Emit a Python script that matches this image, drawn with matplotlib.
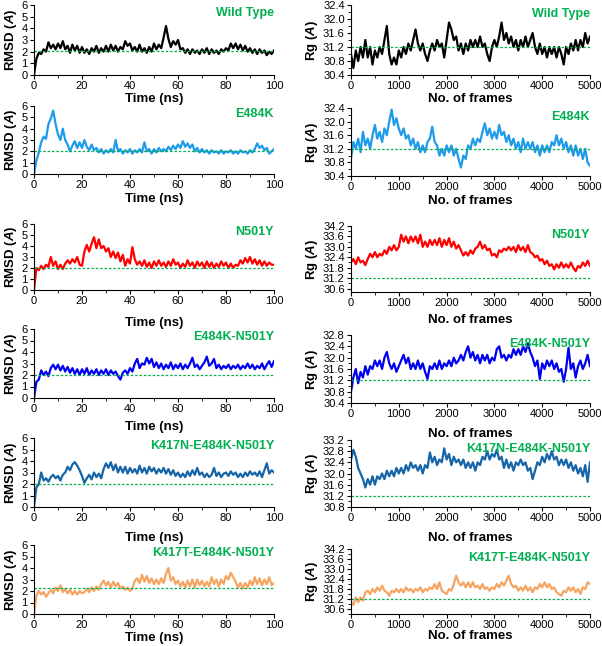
import numpy as np
import matplotlib
matplotlib.use('Agg')
import matplotlib.pyplot as plt
from matplotlib.ticker import MultipleLocator

plt.rcParams['font.family'] = ['Liberation Sans', 'DejaVu Sans']
plt.rcParams['mathtext.fontset'] = 'custom'
plt.rcParams['mathtext.it'] = 'Liberation Sans:italic:bold'
plt.rcParams['mathtext.rm'] = 'Liberation Sans:bold'

# ---------------- datos
names = ['Wild Type', 'E484K', 'N501Y', 'E484K-N501Y',
         'K417N-E484K-N501Y', 'K417T-E484K-N501Y']
colors = ['#000000', '#1E9BEA', '#FF0000', '#0000F0', '#1565A8', '#F5A462']

time_ns = np.arange(0, 101, 1)
frames = np.arange(0, 5001, 50)

rmsd_wt = [0.0, 1.4, 1.9, 1.8, 2.2, 2.0, 2.8, 2.3, 2.6, 2.2,
           2.7, 2.3, 2.9, 2.2, 2.5, 1.9, 2.6, 2.1, 2.5, 1.9,
           2.4, 1.9, 2.2, 1.8, 2.3, 2.0, 2.5, 1.9, 2.3, 2.0,
           2.5, 2.0, 2.6, 2.1, 2.5, 2.0, 2.4, 2.2, 2.9, 2.5,
           2.7, 2.1, 2.4, 2.0, 2.6, 2.0, 2.3, 1.9, 2.4, 2.0,
           2.7, 2.2, 2.6, 2.3, 3.2, 4.2, 3.1, 2.4, 2.9, 2.6,
           3.0, 2.2, 2.3, 1.9, 2.2, 1.8, 2.2, 1.9, 2.1, 1.8,
           2.2, 1.9, 2.3, 1.8, 2.2, 1.9, 2.1, 1.8, 2.2, 2.0,
           2.3, 2.1, 2.7, 2.3, 2.7, 2.2, 2.6, 2.1, 2.5, 2.0,
           2.3, 1.9, 2.2, 1.8, 2.2, 1.9, 2.1, 1.7, 2.0, 1.8, 2.1]
rmsd_e484k = [0.0, 1.2, 1.9, 2.8, 3.3, 3.1, 4.4, 4.9, 5.6, 4.4,
              3.5, 3.0, 4.0, 3.0, 2.6, 2.0, 2.5, 2.9, 2.3, 2.8,
              2.3, 3.0, 2.4, 2.1, 2.6, 2.1, 2.3, 1.9, 2.2, 1.8,
              2.1, 1.9, 2.2, 1.9, 3.0, 2.0, 2.2, 1.8, 2.1, 1.9,
              2.2, 1.8, 2.1, 1.9, 2.2, 1.9, 2.8, 2.0, 2.2, 1.8,
              2.2, 1.9, 2.3, 2.0, 2.2, 2.0, 2.4, 2.1, 2.5, 2.2,
              2.6, 2.3, 2.9, 2.4, 2.7, 2.3, 2.6, 2.0, 2.3, 1.9,
              2.2, 1.9, 2.1, 1.8, 2.1, 1.9, 2.0, 1.8, 2.1, 1.8,
              2.0, 1.9, 2.1, 1.8, 2.0, 1.8, 2.1, 1.9, 2.0, 1.8,
              2.1, 1.9, 2.2, 2.7, 2.3, 2.5, 2.1, 2.3, 1.8, 2.0, 2.2]
rmsd_n501y = [0.0, 2.0, 1.8, 2.2, 1.9, 2.3, 2.1, 3.0, 2.2, 2.6,
              1.9, 2.3, 1.9, 2.4, 2.7, 2.4, 2.8, 2.5, 3.0, 2.3,
              2.2, 3.5, 4.1, 3.5, 4.2, 4.8, 3.8, 4.6, 3.8, 4.0,
              3.5, 3.8, 3.0, 3.5, 2.9, 3.4, 2.6, 3.2, 2.2, 2.8,
              2.4, 3.9, 2.8, 2.3, 2.6, 2.2, 2.7, 2.1, 2.5, 2.0,
              2.6, 2.2, 2.7, 2.2, 2.5, 2.1, 2.6, 2.2, 2.8, 2.3,
              2.5, 2.0, 2.4, 2.1, 2.7, 2.2, 2.5, 2.0, 2.6, 2.2,
              2.5, 2.0, 2.6, 2.1, 2.5, 2.0, 2.4, 2.1, 2.6, 2.2,
              2.5, 2.0, 2.4, 2.0, 2.3, 2.2, 2.7, 2.4, 2.9, 2.5,
              3.0, 2.4, 2.8, 2.3, 2.7, 2.2, 2.6, 2.2, 2.5, 2.3, 2.3]
rmsd_e484k_n501y = [0.0, 1.4, 1.6, 2.4, 2.0, 2.3, 1.9, 2.6, 2.9, 2.5,
                    2.9, 2.4, 2.8, 2.3, 2.7, 2.2, 2.6, 2.1, 2.5, 2.0,
                    2.5, 2.1, 2.6, 2.0, 2.4, 2.1, 2.5, 2.0, 2.4, 2.1,
                    2.5, 2.0, 2.4, 2.1, 2.3, 1.9, 1.6, 2.2, 2.4, 2.1,
                    2.6, 2.3, 3.0, 3.4, 2.6, 3.0, 2.9, 3.5, 3.0, 3.4,
                    2.7, 3.1, 2.6, 3.0, 2.5, 2.9, 2.6, 3.1, 2.5, 2.9,
                    2.6, 3.0, 2.5, 2.9, 2.6, 3.0, 3.5, 2.7, 2.9, 2.5,
                    2.8, 3.1, 3.6, 2.8, 3.0, 3.4, 2.6, 2.9, 2.5, 2.8,
                    2.6, 2.9, 2.5, 2.8, 2.6, 2.9, 2.5, 2.8, 2.6, 3.0,
                    2.6, 2.9, 2.5, 2.8, 2.6, 3.0, 2.5, 2.9, 3.2, 2.7, 3.2]
rmsd_k417n = [0.0, 1.7, 2.0, 3.0, 2.3, 2.5, 2.2, 2.6, 2.8, 2.5,
              2.7, 2.3, 2.8, 3.0, 3.5, 3.2, 3.7, 3.9, 3.6, 3.2,
              2.7, 2.1, 2.5, 2.8, 2.4, 3.0, 2.6, 2.9, 2.5, 3.3,
              3.8, 3.4, 3.9, 3.2, 3.7, 3.0, 3.5, 3.0, 3.5, 2.9,
              3.4, 3.0, 3.3, 2.9, 3.6, 3.0, 3.4, 2.9, 3.5, 3.1,
              3.4, 2.9, 3.3, 3.0, 3.4, 2.9, 3.3, 2.8, 3.2, 2.7,
              3.0, 2.6, 2.9, 2.6, 3.1, 2.7, 3.2, 2.8, 3.4, 2.8,
              3.0, 2.6, 2.9, 2.6, 2.8, 3.4, 2.7, 3.0, 2.6, 2.9,
              3.0, 2.7, 3.1, 2.8, 3.0, 2.6, 2.9, 2.6, 3.0, 2.7,
              3.1, 2.8, 3.0, 2.7, 3.1, 2.6, 3.2, 3.8, 2.9, 3.2, 3.0]
rmsd_k417t = [0.0, 1.6, 2.0, 1.7, 1.9, 1.5, 1.8, 2.1, 1.8, 2.3,
              2.0, 2.5, 1.9, 2.2, 1.8, 2.1, 1.7, 2.0, 1.7, 2.0,
              1.8, 1.9, 2.2, 1.9, 2.3, 2.0, 2.4, 2.1, 2.6, 2.9,
              2.5, 2.8, 2.3, 2.8, 2.4, 2.7, 2.2, 2.4, 2.1, 2.3,
              2.0, 2.2, 2.9, 3.1, 2.7, 3.4, 2.8, 3.3, 2.7, 3.1,
              2.6, 3.0, 2.6, 3.1, 2.7, 3.5, 4.0, 2.9, 3.2, 2.6,
              2.9, 2.4, 2.8, 2.3, 2.9, 2.4, 3.0, 2.3, 3.0, 2.5,
              2.9, 2.4, 2.8, 2.4, 3.2, 2.6, 3.0, 2.4, 3.0, 2.6,
              3.3, 3.0, 3.6, 3.2, 2.8, 2.3, 2.7, 2.2, 2.7, 2.3,
              2.9, 2.5, 3.2, 2.6, 3.1, 2.5, 3.0, 2.6, 3.2, 2.5, 2.7]

rg_wt = [31.0, 30.6, 31.1, 30.8, 31.2, 30.9, 31.4, 30.9, 31.2, 30.7,
         31.1, 30.9, 31.2, 31.0, 31.4, 31.8, 31.0, 30.7, 30.9, 30.7,
         31.1, 30.9, 31.2, 31.0, 31.3, 31.1, 31.4, 31.7, 31.3, 31.1,
         31.3, 31.0, 30.8, 31.1, 31.3, 31.1, 31.4, 31.2, 31.3, 30.9,
         31.4, 31.9, 31.7, 31.4, 31.5, 31.1, 31.3, 31.0, 31.3, 31.1,
         31.4, 31.2, 31.4, 31.2, 31.5, 31.2, 31.3, 31.0, 30.8, 31.2,
         31.4, 31.2, 31.5, 31.9, 31.4, 31.6, 31.3, 31.5, 31.2, 31.4,
         31.1, 31.4, 31.2, 31.5, 31.2, 31.4, 31.6, 31.2, 31.0, 31.3,
         31.0, 31.2, 30.9, 31.2, 31.0, 31.2, 30.9, 31.2, 31.0, 30.7,
         31.2, 31.0, 31.3, 31.1, 31.4, 31.1, 31.4, 31.2, 31.6, 31.3, 31.5]
rg_e484k = [30.9, 31.4, 31.2, 31.5, 31.1, 31.7, 31.3, 31.5, 31.2, 31.6,
            31.9, 31.5, 31.7, 31.4, 31.8, 31.6, 32.0, 32.35, 31.9, 32.1,
            31.8, 31.6, 31.8, 31.5, 31.6, 31.3, 31.5, 31.2, 31.4, 31.1,
            31.3, 31.1, 31.4, 31.5, 31.85, 31.4, 31.3, 31.0, 31.2, 31.0,
            31.3, 31.1, 31.3, 31.0, 31.2, 30.9, 30.65, 31.0, 30.9, 31.3,
            31.2, 31.5, 31.3, 31.5, 31.4, 31.7, 31.95, 31.6, 31.8, 31.5,
            31.7, 31.5, 31.9, 31.6, 31.7, 31.4, 31.6, 31.3, 31.5, 31.2,
            31.4, 31.1, 31.5, 31.2, 31.4, 31.2, 31.4, 31.1, 31.3, 31.0,
            31.3, 31.1, 31.3, 31.1, 31.4, 31.3, 31.6, 31.3, 31.5, 31.2,
            31.4, 31.1, 31.3, 31.0, 31.3, 31.0, 31.2, 30.9, 31.2, 30.8, 30.7]
rg_n501y = [32.1, 32.3, 32.0, 32.4, 32.1, 32.2, 31.95, 32.3, 32.6, 32.4,
            32.7, 32.4, 32.6, 32.5, 32.8, 32.6, 33.0, 32.8, 33.1, 32.8,
            33.0, 33.7, 33.3, 33.6, 33.2, 33.6, 33.3, 33.6, 33.2, 33.7,
            33.0, 33.3, 33.0, 33.4, 33.1, 33.4, 33.1, 33.5, 33.0, 33.4,
            33.1, 33.5, 33.0, 33.3, 32.9, 33.1, 32.8, 32.5, 32.7, 32.5,
            32.8, 32.6, 32.9, 33.0, 33.3, 32.9, 33.1, 32.8, 32.9, 32.5,
            32.6, 32.4, 32.8, 32.7, 32.9, 32.8, 33.0, 32.8, 33.0, 32.7,
            33.1, 32.8, 33.0, 32.7, 33.1, 32.7, 32.6, 32.4, 32.5, 32.2,
            32.3, 32.0, 32.2, 31.9, 32.0, 31.7, 32.0, 31.8, 32.1, 31.8,
            32.0, 31.8, 32.1, 31.8, 31.6, 31.9, 31.8, 32.1, 31.9, 32.2, 31.9]
rg_e484k_n501y = [30.8, 31.3, 31.6, 31.1, 31.5, 31.3, 31.7, 31.4, 31.7, 31.6,
                  31.9, 31.7, 31.9, 31.6, 32.0, 32.2, 31.8, 31.6, 31.8, 31.5,
                  31.7, 31.9, 32.1, 31.8, 32.0, 31.6, 31.8, 31.6, 31.9, 31.6,
                  31.8, 31.5, 31.25, 31.7, 31.6, 31.8, 31.6, 31.9, 31.6, 31.8,
                  31.7, 31.9, 31.7, 32.0, 31.8, 31.9, 32.1, 31.9, 32.2, 32.4,
                  32.0, 32.2, 31.9, 32.1, 31.8, 32.1, 31.9, 32.1, 31.8, 32.0,
                  31.9, 32.3, 32.4, 32.0, 32.1, 31.9, 32.1, 32.0, 32.3, 32.1,
                  32.3, 32.1, 32.4, 32.2, 32.5, 32.2, 32.0, 31.7, 31.9, 31.25,
                  31.8, 31.6, 31.9, 31.7, 31.9, 31.6, 31.8, 31.5, 31.6, 31.15,
                  31.6, 32.35, 31.6, 31.8, 31.3, 31.7, 31.9, 31.6, 31.8, 32.1, 31.7]
rg_k417n = [32.5, 32.85, 32.6, 32.2, 32.0, 31.8, 31.5, 31.8, 31.6, 31.9,
            31.6, 31.9, 31.8, 32.0, 31.8, 32.1, 31.9, 32.1, 31.9, 32.2,
            32.0, 32.2, 32.0, 32.3, 32.1, 32.4, 32.2, 32.3, 32.1, 32.3,
            32.0, 32.3, 32.2, 32.75, 32.4, 32.6, 32.3, 32.5, 32.4, 32.9,
            32.5, 32.7, 32.3, 32.6, 32.4, 32.5, 32.3, 32.5, 32.2, 32.4,
            32.2, 32.4, 32.1, 32.4, 32.3, 32.6, 32.5, 32.8, 32.5, 32.7,
            32.6, 32.85, 32.5, 32.6, 32.2, 32.5, 32.2, 32.4, 32.1, 32.4,
            32.3, 32.5, 32.3, 32.4, 32.1, 32.2, 31.8, 32.1, 32.4, 32.3,
            32.6, 32.4, 32.7, 32.5, 32.8, 32.5, 32.6, 32.3, 32.5, 32.3,
            32.5, 32.2, 32.4, 32.1, 32.3, 32.0, 32.2, 31.9, 32.3, 31.7, 32.4]
rg_k417t = [31.0, 30.85, 31.3, 31.0, 31.3, 31.1, 31.6, 31.7, 31.5, 31.8,
            31.6, 31.9, 31.7, 32.0, 31.7, 31.6, 31.4, 31.7, 31.6, 31.8,
            31.6, 31.8, 31.6, 31.9, 31.7, 31.8, 31.6, 31.8, 31.7, 31.9,
            31.6, 31.8, 31.7, 31.9, 31.8, 32.1, 31.8, 32.2, 31.7, 31.6,
            31.5, 31.8, 31.7, 32.1, 32.6, 32.2, 32.0, 32.2, 31.9, 32.2,
            31.9, 32.2, 31.9, 32.0, 31.8, 32.1, 31.8, 31.9, 31.7, 31.9,
            31.8, 32.1, 31.9, 32.2, 32.0, 32.3, 32.6, 32.1, 31.9, 32.0,
            31.7, 31.9, 31.7, 32.0, 31.7, 31.9, 31.6, 31.9, 31.8, 32.1,
            31.9, 32.2, 31.9, 32.1, 31.8, 31.9, 31.6, 31.5, 31.4, 31.7,
            31.6, 31.9, 31.7, 31.9, 31.6, 31.8, 31.5, 31.9, 31.8, 32.2, 32.1]

rmsd_all = [rmsd_wt, rmsd_e484k, rmsd_n501y, rmsd_e484k_n501y, rmsd_k417n, rmsd_k417t]
rg_all = [rg_wt, rg_e484k, rg_n501y, rg_e484k_n501y, rg_k417n, rg_k417t]
rmsd_ref = [2.05, 2.0, 2.0, 2.0, 2.0, 2.25]
rg_ref = [31.2] * 6

# límites y ticks del eje Rg por panel (lo, hi, primer tick)
rg_lims = [(30.4, 32.4, 30.4), (30.4, 32.4, 30.4), (30.4, 34.2, 30.6),
           (30.4, 32.8, 30.4), (30.8, 33.2, 30.8), (30.3, 34.2, 30.6)]
rg_step = [0.4, 0.4, 0.6, 0.4, 0.4, 0.6]

# ---------------- layout (pixeles de la figura original)
W, H = 602, 646
left_box = [(5, 75), (106, 174), (224, 290), (329, 398), (438, 507), (545, 614)]
right_box = [(5, 75), (108, 176), (226, 292), (335, 403), (440, 507), (549, 614)]
left_pad = [1, 2, 8, 5, 6, 1]
right_pad = [1, 2, 4, 6, 6, 0]
GREEN = '#00B050'

fig = plt.figure(figsize=(W / 100, H / 100), dpi=100)


def style(ax):
    for sp in ['top', 'right']:
        ax.spines[sp].set_visible(False)
    for sp in ['left', 'bottom']:
        ax.spines[sp].set_linewidth(0.8)
    ax.tick_params(which='major', direction='out', length=3, width=0.8,
                   labelsize=8, pad=1.5)
    ax.tick_params(which='minor', direction='out', length=2, width=0.6)


for i in range(6):
    # RMSD
    t, b = left_box[i]
    ax = fig.add_axes([34 / W, 1 - b / H, 240 / W, (b - t) / H])
    ax.plot(time_ns, rmsd_all[i], color=colors[i], lw=1.6)
    ax.axhline(rmsd_ref[i], color=GREEN, ls=(0, (2, 1.5)), lw=0.9)
    ax.set_xlim(0, 100); ax.set_ylim(0, 6)
    ax.xaxis.set_major_locator(MultipleLocator(20))
    ax.xaxis.set_minor_locator(MultipleLocator(10))
    ax.yaxis.set_major_locator(MultipleLocator(1))
    style(ax)
    ax.set_xlabel('Time (ns)', fontsize=9.5, weight='bold', labelpad=left_pad[i])
    ax.set_ylabel(r'RMSD ($\mathit{A}$)', fontsize=9.5, weight='bold', labelpad=2)
    ax.text(1.0, 0.97, names[i], transform=ax.transAxes, ha='right', va='top',
            color=GREEN, weight='bold', fontsize=9)

    # Rg
    t, b = right_box[i]
    ax = fig.add_axes([351 / W, 1 - b / H, 239 / W, (b - t) / H])
    ax.plot(frames, rg_all[i], color=colors[i], lw=1.6)
    ax.axhline(rg_ref[i], color=GREEN, ls=(0, (2, 1.5)), lw=0.9)
    lo, hi, first = rg_lims[i]
    ax.set_xlim(0, 5000); ax.set_ylim(lo, hi)
    ax.set_yticks(np.arange(first, hi + 0.01, rg_step[i]))
    ax.yaxis.set_minor_locator(MultipleLocator(rg_step[i] / 2))
    ax.xaxis.set_major_locator(MultipleLocator(1000))
    ax.xaxis.set_minor_locator(MultipleLocator(500))
    ax.yaxis.set_major_formatter(plt.FormatStrFormatter('%.1f'))
    style(ax)
    ax.set_xlabel('No. of frames', fontsize=9.5, weight='bold', labelpad=right_pad[i])
    ax.set_ylabel(r'Rg ($\mathit{A}$)', fontsize=9.5, weight='bold', labelpad=2)
    ax.text(1.0, 0.95, names[i], transform=ax.transAxes, ha='right', va='top',
            color=GREEN, weight='bold', fontsize=9)

fig.savefig('out.png', dpi=100)
